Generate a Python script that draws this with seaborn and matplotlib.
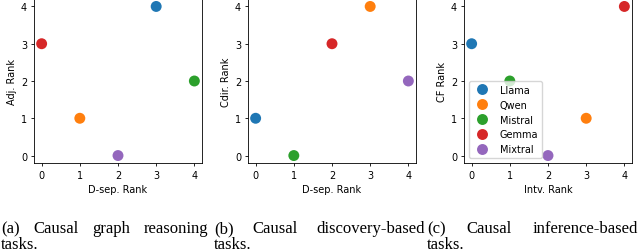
import matplotlib
matplotlib.use("Agg")
import matplotlib.pyplot as plt
import seaborn as sns
import pandas as pd

# model ranks
models = ["Llama", "Qwen", "Mistral", "Gemma", "Mixtral"]
dsep_rank_a = [3, 1, 4, 0, 2]
adj_rank = [4, 1, 2, 3, 0]
dsep_rank_b = [0, 3, 1, 2, 4]
cdir_rank = [1, 4, 0, 3, 2]
intv_rank = [0, 3, 1, 4, 2]
cf_rank = [3, 1, 2, 4, 0]

captions = [
    (["(a)", "Causal", "graph", "reasoning"], "tasks."),
    (["(b)", "Causal", "discovery-based"], "tasks."),
    (["(c)", "Causal", "inference-based"], "tasks."),
]

panels = [
    (dsep_rank_a, adj_rank, "D-sep. Rank", "Adj. Rank"),
    (dsep_rank_b, cdir_rank, "D-sep. Rank", "Cdir. Rank"),
    (intv_rank, cf_rank, "Intv. Rank", "CF Rank"),
]

W, H = 640, 253
fig = plt.figure(figsize=(6.4, 2.53), dpi=100)

ax_left = [34, 248, 464]
ax_w, ax_top, ax_bottom = 168, 0, 164
serif = ["Liberation Serif", "DejaVu Serif"]

for i, (xv, yv, xl, yl) in enumerate(panels):
    ax = fig.add_axes([ax_left[i] / W, 1 - ax_bottom / H, ax_w / W, (ax_bottom - ax_top) / H])
    df = pd.DataFrame({"x": xv, "y": yv, "Model": models})
    sns.scatterplot(data=df, x="x", y="y", hue="Model", hue_order=models,
                    palette="tab10", s=62, linewidth=0, ax=ax, legend=(i == 2))
    ax.set_xlabel(xl, fontsize=7, labelpad=2.8)
    ax.set_ylabel(yl, fontsize=7, labelpad=2.8)
    ax.set_xticks(range(5))
    ax.set_yticks(range(5))
    ax.tick_params(labelsize=7, length=2.5, width=0.6, pad=2.5)
    for sp in ax.spines.values():
        sp.set_linewidth(0.6)
    if i == 2:
        leg = ax.legend(loc="lower left", fontsize=7, borderaxespad=0.5)
        leg.set_title(None)


def justified_line(words, x0, x1, y):
    renderer = fig.canvas.get_renderer()
    texts = [fig.text(0, 1 - y / H, w, family=serif, fontsize=12, va="baseline")
             for w in words]
    widths = [t.get_window_extent(renderer).width for t in texts]
    gap = ((x1 - x0) - sum(widths)) / (len(words) - 1)
    x = x0
    for t, w in zip(texts, widths):
        t.set_position((x / W, 1 - y / H))
        x += w + gap


cap_cols = [(1, 208), (214, 425), (427, 638)]
for (words, line2), (x0, x1) in zip(captions, cap_cols):
    justified_line(words, x0, x1, 233)
    fig.text(x0 / W, 1 - 249 / H, line2, family=serif, fontsize=12, va="baseline")

fig.savefig("out.png", dpi=100)
